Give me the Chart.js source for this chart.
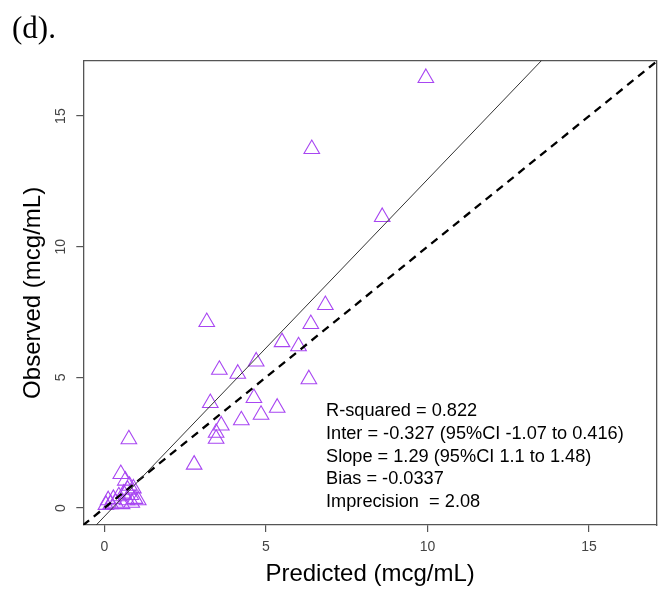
<!DOCTYPE html>
<html>
<head>
<meta charset="utf-8">
<script src="https://cdn.jsdelivr.net/npm/chart.js@4/dist/chart.umd.min.js"></script>
<style>
html,body{margin:0;padding:0;background:#fff;}
#wrap{width:667px;height:589px;}
</style>
</head>
<body>
<div id="wrap"><canvas id="c" width="667" height="589"></canvas></div>
<script>
// ---- data ----
const predicted = [9.95, 6.42, 8.60, 6.84, 6.39, 3.17, 6.01, 5.50, 4.70, 3.56,
                   4.13, 6.33, 3.28, 4.63, 4.85, 5.35, 4.24, 3.62, 3.46, 3.46,
                   2.78, 0.76, 0.51,
                   0.65, 0.78, 0.90, 0.72, 0.60, 0.45, 0.28, 0.12, 0.05, 0.20,
                   0.35, 0.82, 0.95, 1.05, 0.85, 0.55, 0.70];
const observed  = [16.46, 13.74, 11.14, 7.77, 7.04, 7.12, 6.19, 6.35, 5.61, 5.29,
                   5.14, 4.93, 4.02, 4.21, 3.57, 3.84, 3.36, 3.16, 2.88, 2.65,
                   1.66, 2.63, 1.30,
                   1.05, 0.85, 0.75, 0.70, 0.55, 0.45, 0.35, 0.30, 0.12, 0.15,
                   0.20, 0.50, 0.35, 0.30, 0.20, 0.15, 0.30];
const tickValues = [0, 5, 10, 15];
const fitIntercept = -0.327;
const fitSlope = 1.29;
const lineX = [-1, 20];
const statsLines = [
  "R-squared = 0.822",
  "Inter = -0.327 (95%CI -1.07 to 0.416)",
  "Slope = 1.29 (95%CI 1.1 to 1.48)",
  "Bias = -0.0337",
  "Imprecision  = 2.08"
];
const panelLabel = "(d).";
const xTitle = "Predicted (mcg/mL)";
const yTitle = "Observed (mcg/mL)";
const axisMin = -0.65;
const xMax = 17.1;
const yMax = 17.12;

// ---- build datasets ----
const points = predicted.map((p, i) => ({x: p, y: observed[i]}));
const fitLine = lineX.map(x => ({x: x, y: fitIntercept + fitSlope * x}));
const identityLine = lineX.map(x => ({x: x, y: x}));

const SANS = "'Liberation Sans', Arial, Helvetica, sans-serif";
Chart.defaults.font.family = SANS;

const textPlugin = {
  id: 'annot',
  afterDraw(chart) {
    const ctx = chart.ctx;
    ctx.save();
    ctx.fillStyle = '#000';
    ctx.font = "31px 'Liberation Serif', 'Times New Roman', serif";
    ctx.textAlign = 'left';
    ctx.textBaseline = 'alphabetic';
    ctx.fillText(panelLabel, 12, 38);
    ctx.font = "18.2px " + SANS;
    ctx.textBaseline = 'middle';
    statsLines.forEach((t, i) => ctx.fillText(t, 326, 411 + i * 22.75));
    ctx.restore();
  }
};

const AX = '#555';
new Chart(document.getElementById('c'), {
  type: 'scatter',
  data: {
    datasets: [
      {data: fitLine, showLine: true, borderColor: '#333', borderWidth: 1,
       pointRadius: 0, clip: 0},
      {data: identityLine, showLine: true, borderColor: '#000', borderWidth: 2.3,
       borderDash: [8, 6], pointRadius: 0, clip: 0},
      {data: points, pointStyle: 'triangle', pointRadius: 9,
       pointBorderColor: '#A846F2', pointBackgroundColor: 'rgba(0,0,0,0)',
       pointBorderWidth: 1.1, showLine: false}
    ]
  },
  options: {
    responsive: false,
    animation: false,
    layout: {padding: 0},
    plugins: {legend: {display: false}, tooltip: {enabled: false}},
    scales: {
      x: {
        type: 'linear', position: 'bottom', min: axisMin, max: xMax,
        afterBuildTicks: s => { s.ticks = tickValues.map(v => ({value: v})); },
        afterFit: s => { s.height = 64; },
        grid: {display: true, drawOnChartArea: false, drawTicks: true, tickLength: 7, color: AX, lineWidth: 1.2},
        border: {display: true, color: AX, width: 1.3},
        ticks: {padding: 7, color: '#444', font: {size: 14}, maxRotation: 0, autoSkip: false},
        title: {display: true, text: xTitle, color: '#000', font: {size: 24}, padding: {top: 1, bottom: 0}}
      },
      y: {
        type: 'linear', position: 'left', min: axisMin, max: yMax,
        afterBuildTicks: s => { s.ticks = tickValues.map(v => ({value: v})); },
        afterFit: s => { s.width = 83.3; },
        grid: {display: true, drawOnChartArea: false, drawTicks: true, tickLength: 7, color: AX, lineWidth: 1.2},
        border: {display: true, color: AX, width: 1.3},
        ticks: {padding: 7, color: '#444', font: {size: 14}, minRotation: 90, maxRotation: 90, crossAlign: 'center', autoSkip: false},
        title: {display: true, text: yTitle, color: '#000', font: {size: 24}, padding: {top: 18.6, bottom: 0}}
      },
      x2: {
        type: 'linear', position: 'top', min: axisMin, max: xMax,
        afterFit: s => { s.height = 60.7; },
        grid: {display: false}, ticks: {display: false},
        border: {display: true, color: AX, width: 1.3}
      },
      y2: {
        type: 'linear', position: 'right', min: axisMin, max: yMax,
        afterFit: s => { s.width = 6.7; },
        grid: {display: false}, ticks: {display: false},
        border: {display: true, color: AX, width: 1.3}
      }
    }
  },
  plugins: [textPlugin]
});
</script>
</body>
</html>
